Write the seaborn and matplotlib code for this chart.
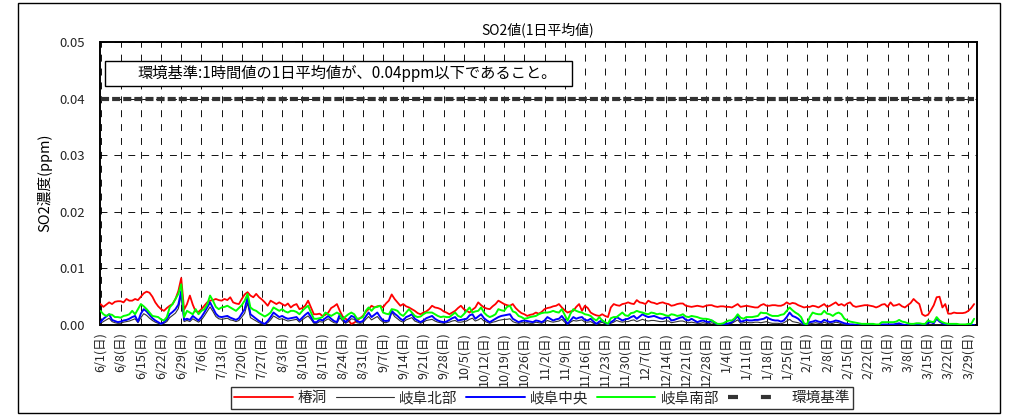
import numpy as np
import pandas as pd
import matplotlib
matplotlib.use("Agg")
import matplotlib.pyplot as plt
from matplotlib.patches import Rectangle
from matplotlib.lines import Line2D
import seaborn as sns

# Daily mean SO2, 2008-06-01 .. 2009-03-31, in ppb (1 ppb = 0.001 ppm)
tsubakibora = [
    3.7, 3.2, 3.6, 4.0, 3.7, 4.1, 4.2, 4.2, 4.0, 4.6,
    4.3, 4.3, 4.6, 4.4, 5.0, 5.6, 5.9, 5.7, 5.0, 4.0,
    3.3, 2.8, 2.5, 3.0, 3.4, 3.7, 4.6, 6.0, 8.3, 2.7,
    3.7, 5.2, 3.6, 2.4, 2.3, 2.8, 3.4, 4.0, 4.3, 4.4,
    4.6, 4.4, 4.3, 4.6, 4.4, 4.9, 4.0, 3.8, 3.7, 4.6,
    5.4, 5.8, 5.2, 4.9, 5.5, 4.9, 4.5, 4.0, 3.4, 4.3,
    4.0, 3.7, 4.0, 3.7, 3.4, 3.8, 3.1, 3.5, 3.7, 2.8,
    3.0, 3.4, 4.3, 3.1, 1.9, 1.9, 2.0, 1.6, 1.8, 2.2,
    3.0, 3.3, 3.7, 2.5, 1.5, 1.1, 0.8, 0.2, 0.4, 0.8,
    1.2, 1.6, 2.3, 2.8, 3.4, 3.1, 3.3, 3.4, 3.1, 3.8,
    4.3, 5.4, 4.6, 4.0, 3.4, 3.7, 3.3, 3.1, 2.8, 2.5,
    2.1, 1.9, 2.2, 2.4, 2.8, 3.4, 3.1, 3.0, 2.8, 2.4,
    2.2, 1.9, 2.2, 2.5, 3.0, 3.4, 2.8, 2.5, 2.2, 2.7,
    3.1, 4.0, 3.5, 3.1, 2.9, 2.8, 3.3, 3.7, 4.3, 4.0,
    3.7, 3.5, 3.4, 3.7, 3.0, 2.5, 2.1, 1.9, 1.6, 1.8,
    1.9, 2.2, 2.0, 2.3, 2.8, 3.0, 3.1, 3.3, 3.4, 3.7,
    3.1, 2.6, 2.2, 2.4, 2.5, 3.2, 3.7, 2.5, 3.4, 3.0,
    2.2, 1.9, 1.7, 1.6, 1.9, 1.6, 1.4, 3.1, 3.7, 3.5,
    3.4, 3.7, 3.8, 4.0, 3.8, 3.7, 4.4, 4.0, 3.9, 3.7,
    4.3, 4.0, 3.9, 3.7, 3.9, 4.0, 3.8, 3.7, 3.4, 3.5,
    3.7, 3.8, 3.8, 3.4, 3.3, 3.2, 3.3, 3.4, 3.3, 3.2,
    3.4, 3.5, 3.5, 3.3, 3.2, 3.3, 3.3, 3.2, 3.2, 3.1,
    3.4, 3.7, 3.2, 3.3, 3.4, 3.3, 3.2, 3.1, 3.1, 3.5,
    3.7, 3.4, 3.4, 3.5, 3.5, 3.4, 3.4, 3.6, 4.0, 3.7,
    3.9, 3.8, 3.5, 3.3, 3.1, 3.2, 3.2, 3.4, 3.3, 3.1,
    3.4, 3.7, 3.2, 3.4, 3.7, 4.0, 3.5, 3.7, 3.4, 3.8,
    4.0, 3.4, 3.2, 3.3, 3.4, 3.5, 3.5, 3.4, 3.3, 3.1,
    3.3, 3.6, 3.7, 3.2, 4.0, 3.4, 3.5, 3.7, 3.3, 3.1,
    3.5, 3.9, 4.6, 4.1, 3.7, 1.9, 1.6, 1.8, 2.6, 3.5,
    4.9, 5.0, 3.1, 3.7, 2.0, 2.0, 2.2, 2.1, 2.1, 2.1,
    2.2, 2.5, 3.0, 3.7,
]

gifu_north = [
    0.3, 0.6, 0.9, 1.2, 0.6, 0.4, 0.3, 0.3, 0.5, 0.6,
    0.7, 0.9, 1.1, 0.4, 1.3, 2.0, 1.7, 1.2, 0.8, 0.5,
    0.3, 0.1, 0.3, 0.6, 1.3, 1.7, 2.1, 2.9, 5.3, 0.6,
    0.8, 0.6, 1.1, 0.8, 0.5, 0.9, 1.6, 2.4, 3.2, 2.4,
    1.5, 1.1, 1.0, 1.1, 1.2, 0.9, 0.8, 0.6, 0.8, 1.4,
    2.1, 3.9, 1.3, 1.0, 0.7, 0.4, 0.2, 0.1, 0.4, 0.9,
    1.6, 1.3, 1.0, 1.1, 0.9, 0.7, 0.8, 0.9, 1.0, 0.5,
    0.9, 1.3, 1.6, 1.0, 0.3, 0.3, 0.6, 0.5, 0.8, 1.1,
    0.7, 0.4, 0.3, 1.3, 0.7, 0.3, 0.6, 1.1, 1.0, 0.4,
    0.3, 0.4, 1.0, 1.5, 0.9, 1.2, 1.5, 0.9, 0.5, 0.4,
    0.6, 2.3, 1.5, 1.1, 0.7, 0.5, 0.9, 1.1, 1.3, 0.7,
    0.5, 0.3, 0.5, 0.8, 0.9, 1.0, 0.7, 0.5, 0.4, 0.3,
    0.4, 0.5, 0.7, 0.8, 0.5, 0.5, 0.6, 0.7, 1.0, 1.2,
    0.7, 0.9, 1.2, 0.7, 0.5, 0.3, 0.5, 0.6, 0.8, 0.9,
    1.0, 1.0, 1.1, 0.6, 0.4, 0.3, 0.4, 0.4, 0.4, 0.3,
    0.3, 0.5, 0.4, 0.3, 0.5, 0.8, 0.6, 0.5, 0.6, 0.7,
    1.0, 0.5, 0.1, 0.5, 0.8, 0.7, 0.8, 0.9, 0.5, 0.5,
    0.6, 0.3, 0.1, 0.3, 0.5, 0.2, 0.0, 0.3, 0.5, 0.8,
    0.6, 0.5, 0.6, 0.6, 0.8, 0.9, 0.6, 0.8, 1.0, 0.8,
    0.7, 0.8, 0.8, 0.7, 0.6, 0.6, 0.7, 0.7, 0.4, 0.5,
    0.6, 0.7, 0.7, 0.5, 0.4, 0.5, 0.4, 0.3, 0.3, 0.4,
    0.3, 0.2, 0.4, 0.2, 0.0, 0.0, 0.0, 0.1, 0.2, 0.3,
    0.6, 0.9, 0.3, 0.4, 0.5, 0.4, 0.4, 0.5, 0.5, 0.4,
    0.5, 0.6, 0.4, 0.3, 0.3, 0.3, 0.2, 0.4, 0.7, 1.0,
    0.6, 0.5, 0.4, 0.2, 0.0, 0.0, 0.2, 0.3, 0.4, 0.3,
    0.2, 0.5, 0.3, 0.2, 0.3, 0.5, 0.4, 0.2, 0.1, 0.0,
    0.0, 0.0, 0.0, 0.0, 0.0, 0.0, 0.0, 0.0, 0.0, 0.0,
    0.0, 0.0, 0.0, 0.0, 0.0, 0.0, 0.0, 0.0, 0.0, 0.0,
    0.0, 0.0, 0.0, 0.0, 0.0, 0.0, 0.0, 0.0, 0.0, 0.0,
    0.0, 0.0, 0.0, 0.0, 0.0, 0.0, 0.0, 0.0, 0.0, 0.0,
    0.0, 0.0, 0.0, 0.0,
]

gifu_central = [
    0.5, 1.1, 1.5, 1.9, 0.9, 0.7, 0.5, 0.6, 0.8, 0.9,
    1.1, 1.4, 1.6, 0.6, 2.0, 2.8, 2.4, 1.8, 1.2, 0.8,
    0.5, 0.2, 0.5, 1.0, 1.9, 2.3, 2.8, 3.6, 6.0, 0.9,
    1.1, 0.9, 1.6, 1.2, 0.8, 1.4, 2.2, 3.1, 4.0, 3.0,
    2.0, 1.5, 1.4, 1.5, 1.6, 1.3, 1.1, 0.9, 1.2, 2.0,
    2.8, 4.9, 1.9, 1.5, 1.1, 0.7, 0.4, 0.2, 0.7, 1.4,
    2.2, 1.8, 1.4, 1.6, 1.3, 1.1, 1.2, 1.3, 1.4, 0.8,
    1.3, 1.8, 2.2, 1.4, 0.5, 0.5, 1.0, 0.8, 1.2, 1.6,
    1.1, 0.7, 0.5, 1.9, 1.1, 0.5, 1.0, 1.6, 1.4, 0.7,
    0.5, 0.7, 1.5, 2.2, 1.4, 1.8, 2.2, 1.4, 0.8, 0.7,
    0.8, 2.5, 2.0, 1.6, 1.1, 0.8, 1.4, 1.6, 1.9, 1.1,
    0.8, 0.5, 0.8, 1.2, 1.4, 1.6, 1.1, 0.8, 0.6, 0.5,
    0.6, 0.9, 1.2, 1.4, 0.8, 0.9, 1.0, 1.1, 1.7, 1.9,
    1.1, 1.5, 1.9, 1.2, 0.8, 0.5, 0.8, 1.1, 1.4, 1.6,
    1.7, 1.8, 1.9, 1.1, 0.8, 0.5, 0.7, 0.8, 0.7, 0.6,
    0.5, 0.8, 0.7, 0.5, 0.8, 1.4, 1.1, 0.8, 1.0, 1.1,
    1.6, 0.9, 0.2, 0.8, 1.4, 1.1, 1.3, 1.4, 0.9, 0.8,
    1.1, 0.6, 0.2, 0.6, 0.8, 0.4, 0.1, 0.5, 0.8, 1.4,
    1.1, 0.8, 1.0, 1.1, 1.4, 1.6, 1.1, 1.5, 1.9, 1.6,
    1.4, 1.5, 1.6, 1.4, 1.2, 1.1, 1.3, 1.4, 0.8, 0.9,
    1.1, 1.3, 1.4, 0.9, 0.8, 1.1, 0.8, 0.5, 0.7, 0.8,
    0.6, 0.5, 0.8, 0.4, 0.1, 0.1, 0.1, 0.2, 0.3, 0.5,
    1.0, 1.6, 0.6, 0.7, 0.9, 0.8, 0.8, 0.9, 0.9, 1.0,
    1.1, 1.4, 1.1, 0.9, 0.8, 0.8, 0.6, 0.8, 1.4, 2.2,
    1.6, 1.4, 1.1, 0.6, 0.1, 0.1, 0.5, 0.6, 0.8, 0.6,
    0.5, 0.9, 0.7, 0.5, 0.6, 0.8, 0.7, 0.5, 0.3, 0.2,
    0.1, 0.1, 0.0, 0.0, 0.0, 0.0, 0.0, 0.0, 0.0, 0.0,
    0.0, 0.1, 0.1, 0.1, 0.1, 0.1, 0.2, 0.3, 0.1, 0.0,
    0.0, 0.0, 0.0, 0.0, 0.0, 0.0, 0.1, 0.4, 0.5, 0.3,
    1.1, 0.6, 0.3, 0.1, 0.0, 0.0, 0.0, 0.0, 0.0, 0.0,
    0.0, 0.0, 0.0, 0.0,
]

gifu_south = [
    2.5, 1.9, 1.6, 1.9, 1.8, 1.4, 1.4, 1.3, 1.6, 1.7,
    1.9, 2.5, 1.9, 2.8, 3.7, 3.3, 2.8, 2.2, 1.6, 1.5,
    1.4, 1.0, 0.8, 1.4, 3.1, 3.7, 4.6, 5.5, 7.2, 1.4,
    2.5, 2.2, 1.9, 2.8, 1.9, 2.5, 2.8, 3.6, 5.2, 4.3,
    3.2, 2.8, 3.1, 3.2, 3.4, 3.1, 2.8, 2.5, 3.0, 3.5,
    4.3, 5.5, 3.1, 2.7, 2.5, 2.1, 1.8, 1.5, 1.8, 2.2,
    3.1, 2.8, 2.5, 2.8, 2.4, 2.2, 2.5, 2.5, 2.3, 1.9,
    2.5, 3.0, 3.4, 2.2, 1.1, 1.1, 1.2, 1.4, 2.2, 1.9,
    1.6, 1.9, 2.2, 1.9, 1.0, 1.5, 1.9, 2.2, 1.9, 1.1,
    1.2, 1.4, 2.5, 3.1, 2.5, 3.1, 3.2, 3.4, 2.2, 2.0,
    1.9, 2.8, 2.7, 2.5, 1.9, 1.6, 2.2, 2.8, 2.2, 1.6,
    1.4, 1.5, 1.9, 2.2, 2.2, 2.2, 1.9, 1.6, 1.4, 1.5,
    1.4, 1.4, 1.8, 2.2, 1.6, 1.4, 1.9, 2.5, 3.1, 2.2,
    2.4, 2.5, 3.1, 2.2, 1.7, 1.4, 1.6, 1.9, 2.8, 2.6,
    2.5, 3.2, 3.4, 2.4, 2.2, 1.6, 1.4, 1.1, 1.2, 1.4,
    1.5, 1.6, 1.9, 2.1, 2.2, 2.2, 2.3, 2.5, 2.3, 2.2,
    2.8, 1.8, 0.8, 2.0, 2.8, 2.5, 2.3, 2.2, 1.9, 1.8,
    1.6, 1.1, 0.8, 1.4, 0.8, 0.5, 0.2, 1.2, 1.4, 1.4,
    1.8, 2.2, 1.7, 1.6, 2.1, 2.2, 2.5, 2.3, 2.2, 2.0,
    1.9, 2.2, 2.1, 1.9, 2.0, 1.9, 1.7, 1.6, 1.9, 1.8,
    1.6, 1.7, 1.9, 1.5, 1.4, 1.6, 1.5, 1.4, 1.2, 1.1,
    1.1, 1.0, 0.8, 0.5, 0.2, 0.2, 0.3, 0.6, 0.8, 0.8,
    1.2, 1.9, 1.3, 1.1, 1.4, 1.4, 1.4, 1.5, 1.6, 2.2,
    2.1, 2.1, 1.8, 1.6, 1.6, 1.6, 1.8, 1.9, 2.5, 3.1,
    2.6, 2.2, 1.9, 1.4, 0.3, 0.1, 1.4, 2.2, 2.0, 1.9,
    1.9, 2.5, 2.0, 1.9, 1.6, 2.0, 2.2, 1.9, 1.1, 0.8,
    0.6, 0.5, 0.4, 0.3, 0.2, 0.2, 0.2, 0.2, 0.2, 0.1,
    0.1, 0.5, 0.5, 0.5, 0.5, 0.5, 0.6, 0.9, 0.6, 0.5,
    0.3, 0.2, 0.2, 0.3, 0.3, 0.2, 0.2, 0.8, 0.6, 0.5,
    1.4, 0.8, 0.5, 0.3, 0.2, 0.2, 0.2, 0.2, 0.1, 0.1,
    0.1, 0.2, 0.2, 1.1,
]

stations = ["椿洞", "岐阜北部", "岐阜中央", "岐阜南部"]
standard_label = "環境基準"
standard_ppm = 0.04

week_labels = [
    "6/1(日)", "6/8(日)", "6/15(日)", "6/22(日)", "6/29(日)",
    "7/6(日)", "7/13(日)", "7/20(日)", "7/27(日)",
    "8/3(日)", "8/10(日)", "8/17(日)", "8/24(日)", "8/31(日)",
    "9/7(日)", "9/14(日)", "9/21(日)", "9/28(日)",
    "10/5(日)", "10/12(日)", "10/19(日)", "10/26(日)",
    "11/2(日)", "11/9(日)", "11/16(日)", "11/23(日)", "11/30(日)",
    "12/7(日)", "12/14(日)", "12/21(日)", "12/28(日)",
    "1/4(日)", "1/11(日)", "1/18(日)", "1/25(日)",
    "2/1(日)", "2/8(日)", "2/15(日)", "2/22(日)",
    "3/1(日)", "3/8(日)", "3/15(日)", "3/22(日)", "3/29(日)",
]
y_ticks = [0.00, 0.01, 0.02, 0.03, 0.04, 0.05]

title_text = "SO2値(1日平均値)"
ylabel_text = "SO2濃度(ppm)"
note_text = "環境基準:1時間値の1日平均値が、0.04ppm以下であること。"

# ---------------------------------------------------------------- style
sns.set_theme(style="white")
plt.rcParams["font.family"] = ["Noto Sans CJK JP", "DejaVu Sans"]
plt.rcParams["lines.scale_dashes"] = False
plt.rcParams["axes.unicode_minus"] = False

line_styles = {
    "椿洞": ("#FF0000", 1.3),
    "岐阜北部": ("#333333", 0.8),
    "岐阜中央": ("#0000FF", 1.4),
    "岐阜南部": ("#00FF00", 1.4),
}
standard_color = "#333333"

# ---------------------------------------------------------------- data frame
dates = pd.date_range("2008-06-01", periods=len(tsubakibora), freq="D")
wide = pd.DataFrame({
    "date": dates,
    "椿洞": np.array(tsubakibora) / 1000.0,
    "岐阜北部": np.array(gifu_north) / 1000.0,
    "岐阜中央": np.array(gifu_central) / 1000.0,
    "岐阜南部": np.array(gifu_south) / 1000.0,
})
long = wide.melt(id_vars="date", var_name="station", value_name="ppm")
standard_df = pd.DataFrame({"date": dates, "ppm": standard_ppm})

# ---------------------------------------------------------------- figure
W, H = 1012, 415
fig = plt.figure(figsize=(W / 100, H / 100), dpi=100)
fig.patch.set_facecolor("white")

ax_l, ax_r, ax_t, ax_b = 100.5, 977.0, 42.0, 325.0
ax = fig.add_axes([ax_l / W, 1 - ax_b / H, (ax_r - ax_l) / W, (ax_b - ax_t) / H])
ax.set_facecolor("white")

for st in stations:
    color, lw = line_styles[st]
    sns.lineplot(data=long[long["station"] == st], x="date", y="ppm",
                 color=color, lw=lw, estimator=None, legend=False,
                 ax=ax, zorder=3)

sns.lineplot(data=standard_df, x="date", y="ppm", color=standard_color,
             lw=3.0, linestyle=(0, (5.8, 2.2)), estimator=None,
             legend=False, ax=ax, zorder=4)

# axes ranges and ticks
ax.set_xlim(pd.Timestamp("2008-06-01"), pd.Timestamp("2009-04-01"))
ax.set_ylim(0, 0.05)
tick_dates = pd.date_range("2008-06-01", periods=len(week_labels), freq="7D")
ax.set_xticks(tick_dates)
ax.set_xticklabels(week_labels, rotation=90, fontsize=9.0)
ax.set_yticks(y_ticks)
ax.set_yticklabels([f"{v:.2f}" for v in y_ticks], fontsize=9.5)
ax.tick_params(axis="y", length=0, pad=11)
ax.tick_params(axis="x", length=0, pad=5)
ax.set_xlabel("")
ax.set_ylabel("")

# dashed grid
ax.set_axisbelow(True)
ax.grid(True, which="major", axis="both", color="black", lw=0.65,
        linestyle=(0, (5.0, 5.0)))
for side in ["left", "right", "top", "bottom"]:
    ax.spines[side].set_visible(True)
    ax.spines[side].set_color("black")
    ax.spines[side].set_linewidth(1.4)

# title and axis label
fig.text(538 / W, 1 - 30 / H, title_text, ha="center", va="center",
         fontsize=10.0, color="black")
fig.text(45 / W, 1 - 183 / H, ylabel_text, ha="center", va="center",
         rotation=90, fontsize=10.5, color="black")

# note box with the environmental standard
fig.add_artist(Rectangle((105 / W, 1 - 86 / H), 467 / W, 25 / H,
                         transform=fig.transFigure, facecolor="white",
                         edgecolor="black", lw=1.0, zorder=5))
fig.text(137 / W, 1 - 73.5 / H, note_text, ha="left", va="center",
         fontsize=11, color="black", zorder=6)

# legend along the bottom
handles = [Line2D([], [], color=line_styles[s][0], lw=line_styles[s][1])
           for s in stations]
handles.append(Line2D([], [], color=standard_color, lw=3.0,
                      linestyle=(0, (7.2, 16.5))))
leg = fig.legend(handles, stations + [standard_label], loc="center",
                 bbox_to_anchor=(542 / W, 1 - 398 / H), ncol=5,
                 frameon=True, fancybox=False, edgecolor="black",
                 fontsize=10.5, handlelength=4.0, handletextpad=0.35,
                 columnspacing=0.6, borderpad=0.25, borderaxespad=0)
leg.get_frame().set_linewidth(1.0)

# outer chart frame
fig.add_artist(Rectangle((18 / W, 2 / H), 982 / W, 410 / H,
                         transform=fig.transFigure, fill=False,
                         edgecolor="black", lw=1.0, zorder=0))

fig.savefig("out.png", dpi=100, facecolor="white")
